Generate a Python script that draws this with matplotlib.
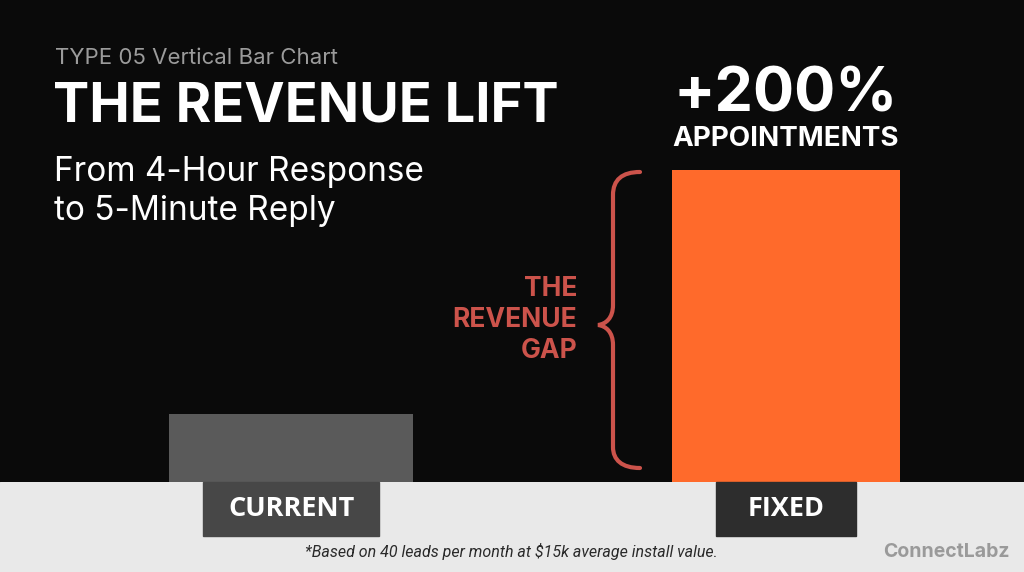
import numpy as np
import matplotlib.pyplot as plt
from matplotlib.path import Path
from matplotlib.patches import PathPatch

W, H = 1024, 572

categories = ["CURRENT", "FIXED"]
values = [21.8, 100.0]          # relative bar heights
bar_colors = ["#5a5a5a", "#ff6a2b"]
label_box_colors = ["#474747", "#2d2d2d"]

BG = "#0a0a0a"
STRIP = "#e9e9e9"
RED = "#cc534b"

fig = plt.figure(figsize=(W / 100, H / 100), dpi=100, facecolor=BG)

# light strip at the bottom
strip = fig.add_axes([0, 0, 1, 1 - 482 / H])
strip.set_facecolor(STRIP)
strip.set_axis_off()
strip.add_patch(plt.Rectangle((0, 0), 1, 1, color=STRIP, transform=strip.transAxes))

# bar axes over the dark area, one x unit = 495 px between bar centres
ax = fig.add_axes([0, 1 - 482 / H, 1, 482 / H])
ax.set_facecolor(BG)
x = np.arange(len(categories))
unit = 786 - 291
ax.bar(x, values, width=[244 / unit, 228 / unit], color=bar_colors)
ax.set_xlim(-291 / unit, (W - 291) / unit)
ax.set_ylim(0, 100 * 482 / 312)
ax.set_axis_off()

# overlay axes in pixel coords for annotations
ov = fig.add_axes([0, 0, 1, 1], facecolor="none")
ov.set_xlim(0, W)
ov.set_ylim(H, 0)
ov.set_axis_off()

# category label boxes
box_w = [176, 140]
for i, cat in enumerate(categories):
    cx = 291 + i * unit
    ov.add_patch(plt.Rectangle((cx - box_w[i] / 2, 482), box_w[i], 54,
                               color=label_box_colors[i], zorder=3))
    ov.text(cx, 509, cat, color="white", fontsize=19.5, fontweight="bold",
            family="Open Sans", ha="center", va="center", zorder=4)

# headings
ov.text(55, 58, "TYPE 05 Vertical Bar Chart", color="#9b9b9b", fontsize=16,
        family="Inter", ha="left", va="center")
ov.text(53, 107, "THE REVENUE LIFT", color="white", fontsize=39,
        fontweight="bold", family="Inter", ha="left", va="center")
ov.text(54, 172, "From 4-Hour Response", color="white", fontsize=24,
        family="Inter", ha="left", va="center")
ov.text(54, 211, "to 5-Minute Reply", color="white", fontsize=24,
        family="Inter", ha="left", va="center")

# lift annotation
ov.text(786, 96, "+200%", color="white", fontsize=44, fontweight="bold",
        family="Inter", ha="center", va="center")
ov.text(786, 139, "APPOINTMENTS", color="white", fontsize=20,
        fontweight="bold", family="Inter", ha="center", va="center")

# brace
verts = [(640, 172), (622, 172), (613, 180), (613, 195),
         (613, 305),
         (613, 318), (606, 324), (598, 325),
         (606, 326), (613, 332), (613, 345),
         (613, 447),
         (613, 460), (622, 468), (640, 468)]
codes = [Path.MOVETO, Path.CURVE4, Path.CURVE4, Path.CURVE4,
         Path.LINETO,
         Path.CURVE4, Path.CURVE4, Path.CURVE4,
         Path.CURVE4, Path.CURVE4, Path.CURVE4,
         Path.LINETO,
         Path.CURVE4, Path.CURVE4, Path.CURVE4]
ov.add_patch(PathPatch(Path(verts, codes), facecolor="none", edgecolor=RED,
                       lw=3, capstyle="round"))
for txt, yy in zip(["THE", "REVENUE", "GAP"], [289, 320, 351]):
    ov.text(577, yy, txt, color=RED, fontsize=19, fontweight="bold",
            family="Inter", ha="right", va="center")

# footnote and brand
ov.text(511, 551, "*Based on 40 leads per month at $15k average install value.",
        color="#2a2a2a", fontsize=11.5, style="italic", family="Roboto",
        ha="center", va="center")
ov.text(1010, 552, "ConnectLabz", color="#9a9a9a", fontsize=14,
        fontweight="bold", family="Inter", ha="right", va="center")

fig.savefig("out.png", dpi=100, facecolor=BG)
